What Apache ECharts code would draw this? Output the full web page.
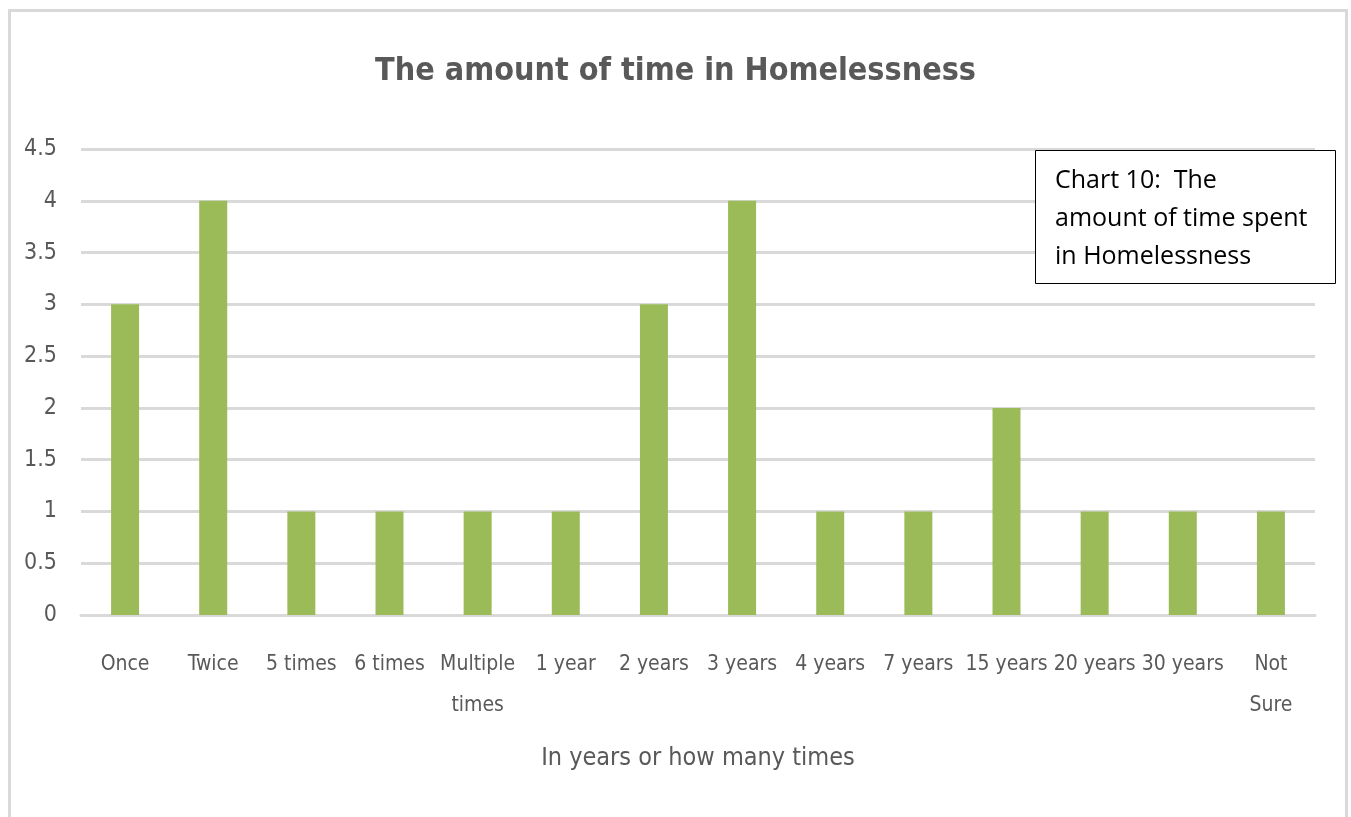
<!DOCTYPE html>
<html>
<head>
<meta charset="utf-8">
<script src="https://cdn.jsdelivr.net/npm/echarts@6/dist/echarts.min.js"></script>
<style>
  html, body { margin: 0; padding: 0; background: #ffffff; }
  #chart { width: 1351px; height: 817px; }
</style>
</head>
<body>
<div id="chart"></div>
<script>
// Categories along the x axis (duration or number of episodes)
const categories = ['Once', 'Twice', '5 times', '6 times', 'Multiple\ntimes', '1 year', '2 years',
  '3 years', '4 years', '7 years', '15 years', '20 years', '30 years', 'Not\nSure'];
// Number of respondents in each category
const counts = [3, 4, 1, 1, 1, 1, 3, 4, 1, 1, 2, 1, 1, 1];
// Value axis range
const yMin = 0, yMax = 4.5, yStep = 0.5;

const narrow = '"DejaVu Sans Condensed", "Liberation Sans Narrow", "Open Sans", sans-serif';
const body = '"Open Sans", "Noto Sans", "Liberation Sans", sans-serif';

const chart = echarts.init(document.getElementById('chart'), null, { renderer: 'canvas' });
chart.setOption({
  animation: false,
  backgroundColor: '#ffffff',
  title: {
    text: 'The amount of time in Homelessness',
    left: 'center',
    top: 51,
    textStyle: { fontFamily: narrow, fontWeight: 'bold', fontSize: 32, color: '#595959' }
  },
  grid: { left: 81, right: 36, top: 149, bottom: 202, containLabel: false },
  xAxis: {
    type: 'category',
    data: categories,
    name: 'In years or how many times',
    nameLocation: 'middle',
    nameGap: 131,
    nameTextStyle: { fontFamily: narrow, fontSize: 25, color: '#595959' },
    axisLine: { lineStyle: { color: '#d9d9d9', width: 3 } },
    axisTick: { show: false },
    axisLabel: {
      interval: 0, margin: 29, fontFamily: narrow, fontSize: 21, color: '#595959', lineHeight: 41
    }
  },
  yAxis: {
    type: 'value',
    min: yMin, max: yMax, interval: yStep,
    axisLine: { show: false },
    axisTick: { show: false },
    splitLine: { lineStyle: { color: '#d9d9d9', width: 3 } },
    axisLabel: { margin: 24, fontFamily: narrow, fontSize: 23, color: '#595959' }
  },
  series: [{
    type: 'bar',
    data: counts,
    barWidth: 28,
    itemStyle: { color: '#9bbb59' }
  }],
  graphic: [
    {
      type: 'rect', left: 7, top: 8, z: -10,
      shape: { width: 1337, height: 830 },
      style: { fill: 'none', stroke: '#d9d9d9', lineWidth: 3 }
    },
    {
      type: 'rect', z: 100, left: 1035, top: 150,
      shape: { x: 0, y: 0, width: 300, height: 133 },
      style: { fill: '#ffffff', stroke: '#000000', lineWidth: 1 }
    },
    {
      type: 'text', z: 101, left: 1055, top: 162,
      style: {
        text: 'Chart 10:  The\namount of time spent\nin Homelessness',
        fontFamily: body, fontSize: 25, lineHeight: 38, fill: '#000000'
      }
    }
  ]
});
</script>
</body>
</html>
